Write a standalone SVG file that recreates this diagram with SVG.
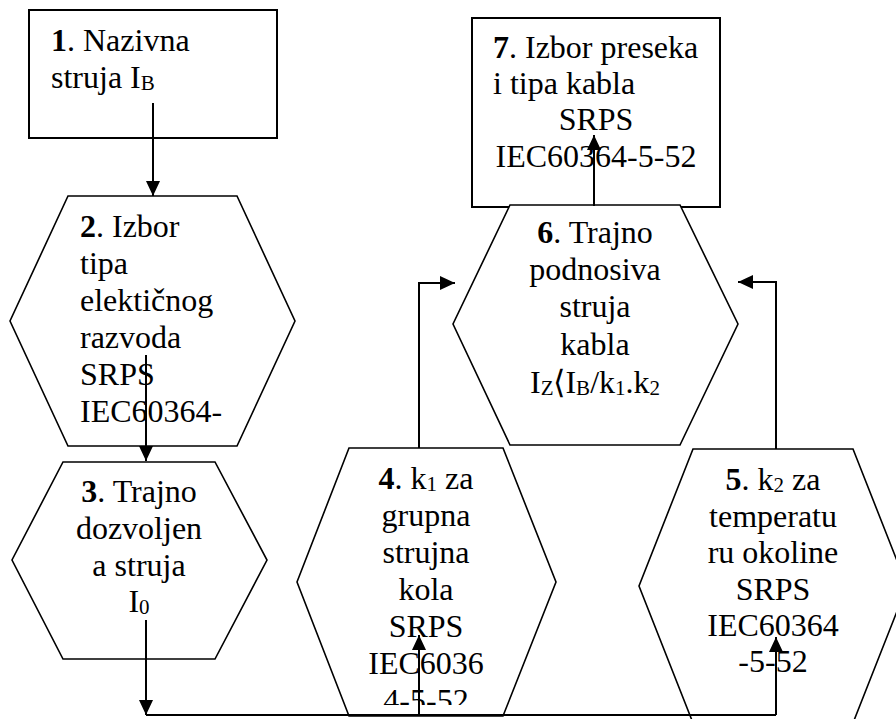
<svg xmlns="http://www.w3.org/2000/svg" width="896" height="719" viewBox="0 0 896 719">
<style>
.box{fill:#fff;stroke:#000;stroke-width:2}
.hex{fill:#fff;stroke:#000;stroke-width:1.6}
.t{font-family:"Liberation Serif","Times New Roman",serif;font-size:32px;fill:#000}
.c{text-anchor:middle}
.b{font-weight:bold}
.s{font-size:21px}
.ln{fill:none;stroke:#000;stroke-width:2}
</style>
<defs>
<marker id="ah" markerUnits="userSpaceOnUse" markerWidth="16" markerHeight="15" refX="15" refY="7" orient="auto">
<path d="M0,0 L15,7 L0,14 z" fill="#000"/>
</marker>
<clipPath id="clip4"><rect x="290" y="440" width="280" height="265"/></clipPath>
</defs>

<g id="node1">
<rect class="box" x="29" y="10" width="248" height="128"/>
<text class="t" x="51" y="51"><tspan class="b">1</tspan>. Nazivna</text>
<text class="t" x="51" y="88">struja I<tspan class="s" dy="2">B</tspan></text>
</g>

<g id="node2">
<polygon class="hex" points="68,196 237,196 295,321 237,446 68,446 10,321"/>
<text class="t" x="80" y="237"><tspan class="b">2</tspan>. Izbor</text>
<text class="t" x="80" y="274">tipa</text>
<text class="t" x="80" y="311">elektičnog</text>
<text class="t" x="80" y="348">razvoda</text>
<text class="t" x="80" y="385">SRPS</text>
<text class="t" x="80" y="422">IEC60364-</text>
</g>

<g id="node3">
<polygon class="hex" points="63,462 215,462 267,560 215,659 63,659 12,560"/>
<text class="t c" x="139" y="502"><tspan class="b">3</tspan>. Trajno</text>
<text class="t c" x="139" y="539">dozvoljen</text>
<text class="t c" x="139" y="576">a struja</text>
<text class="t c" x="139" y="612">I<tspan class="s" dy="2">0</tspan></text>
</g>

<g id="node4">
<polygon class="hex" points="349,448 503,448 556,582 503,716 349,716 297,582"/>
<g clip-path="url(#clip4)">
<text class="t c" x="426" y="489"><tspan class="b">4</tspan>. k<tspan class="s" dy="2">1</tspan><tspan dy="-2"> za</tspan></text>
<text class="t c" x="426" y="526">grupna</text>
<text class="t c" x="426" y="563">strujna</text>
<text class="t c" x="426" y="600">kola</text>
<text class="t c" x="426" y="637">SRPS</text>
<text class="t c" x="426" y="674">IEC6036</text>
<text class="t c" x="426" y="711">4-5-52</text>
</g>
</g>

<g id="node5">
<polygon class="hex" points="693,449 853,449 907,586 853,723 693,723 639,586"/>
<text class="t c" x="773" y="490"><tspan class="b">5</tspan>. k<tspan class="s" dy="2">2</tspan><tspan dy="-2"> za</tspan></text>
<text class="t c" x="773" y="527">temperatu</text>
<text class="t c" x="773" y="563">ru okoline</text>
<text class="t c" x="773" y="600">SRPS</text>
<text class="t c" x="773" y="636">IEC60364</text>
<text class="t c" x="773" y="672">-5-52</text>
</g>

<g id="node7">
<rect class="box" x="472" y="18" width="248" height="189"/>
<text class="t" x="493" y="58"><tspan class="b">7</tspan>. Izbor preseka</text>
<text class="t" x="493" y="94">i tipa kabla</text>
<text class="t c" x="596" y="130">SRPS</text>
<text class="t c" x="596" y="167">IEC60364-5-52</text>
</g>

<g id="node6">
<polygon class="hex" points="510,205 680,205 738,324 680,445 510,445 453,324"/>
<text class="t c" x="595" y="243"><tspan class="b">6</tspan>. Trajno</text>
<text class="t c" x="595" y="280">podnosiva</text>
<text class="t c" x="595" y="317">struja</text>
<text class="t c" x="595" y="355">kabla</text>
<text class="t c" x="595" y="393">I<tspan class="s" dy="2">Z</tspan><tspan dy="-2">⟨I</tspan><tspan class="s" dy="2">B</tspan><tspan dy="-2">/k</tspan><tspan class="s" dy="2">1</tspan><tspan dy="-2">.k</tspan><tspan class="s" dy="2">2</tspan></text>
</g>

<g id="connectors">
<line class="ln" x1="153" y1="103" x2="153" y2="196" marker-end="url(#ah)"/>
<line class="ln" x1="146" y1="355" x2="146" y2="461" marker-end="url(#ah)"/>
<line class="ln" x1="146" y1="620" x2="146" y2="715" marker-end="url(#ah)"/>
<polyline class="ln" points="146,715 776,715"/>
<line class="ln" x1="419" y1="715" x2="419" y2="635" marker-end="url(#ah)"/>
<line class="ln" x1="776" y1="715" x2="776" y2="637" marker-end="url(#ah)"/>
<polyline class="ln" points="419,448 419,283 455,283" marker-end="url(#ah)"/>
<polyline class="ln" points="776,449 776,282 738,282" marker-end="url(#ah)"/>
<line class="ln" x1="594" y1="206" x2="594" y2="135" marker-end="url(#ah)"/>
</g>
</svg>
